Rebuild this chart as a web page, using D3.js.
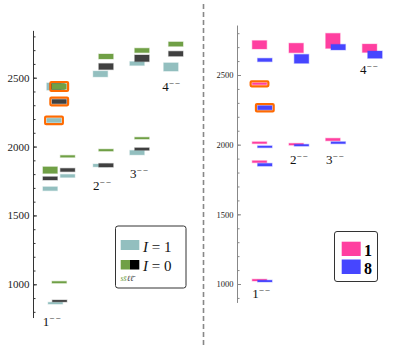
<!DOCTYPE html>
<html>
<head>
<meta charset="utf-8">
<script src="https://cdn.jsdelivr.net/npm/d3@7"></script>
<style>
  body { margin: 0; background: #fff; }
  svg { display: block; font-family: "Liberation Serif", "DejaVu Serif", serif; }
  svg text { font-family: "Liberation Serif", "DejaVu Serif", serif; }
</style>
</head>
<body>
<script>
// ---- data (MeV) ----
// left panel: I=1 (teal), I=0 ss-bar (green), I=0 ll-bar (black)
const tealX    = [0.51, 0.51, 0.40, 0.90, 0.55, 1.84, 1.84, 2.89, 2.89, 3.86];
const tealMass = [2436, 2190, 1694, 1787, 863, 2527, 1863, 2603, 1956, 2578];
const tealErr  = [26, 16, 14, 11, 4, 21, 10, 14, 16, 30];
const tealHi   = [false, true, false, false, false, false, false, false, false, false];

const blackX    = [0.60, 0.66, 0.40, 0.90, 0.67, 2.0, 2.0, 3.03, 3.03, 4.0];
const blackMass = [2436, 2327, 1769, 1830, 879, 2581, 1864, 2641, 1982, 2674];
const blackErr  = [21, 16, 12, 12, 5, 22, 13, 24, 9, 18];
const blackHi   = [false, true, false, false, false, false, false, false, false, false];

const greenX    = [0.66, 0.40, 0.90, 0.66, 2.0, 2.0, 3.03, 3.03, 4.0];
const greenMass = [2436, 1829, 1929, 1015, 2654, 1974, 2698, 2061, 2744];
const greenErr  = [21, 24, 7, 4, 18, 7, 16, 6, 16];
const greenHi   = [true, false, false, false, false, false, false, false, false];

// right panel: singlet (pink) and octet (blue)
const pinkX    = [1, 1, 1, 1, 1, 2, 2, 3, 3, 4];
const pinkMass = [2717, 2437, 2014, 1878, 1028, 2694, 2003, 2745, 2037, 2692];
const pinkErr  = [30, 5, 4, 7, 4, 34, 6, 54, 9, 30];
const pinkHi   = [false, true, false, false, false, false, false, false, false, false];

const blueX    = [1.145, 1.145, 1.145, 1.145, 1.145, 2.145, 2.145, 3.145, 3.145, 4.145];
const blueMass = [2608, 2265, 1985, 1856, 1021, 2616, 1996, 2700, 2014, 2646];
const blueErr  = [12, 15, 6, 10, 4, 32, 6, 20, 7, 26];
const blueHi   = [false, true, false, false, false, false, false, false, false, false];

// J^PC labels
const jpcDigits    = ["1", "2", "3", "4"];
const leftLabelX   = [0.19, 1.63, 2.69, 3.61];
const leftLabelM   = [697, 1684, 1772, 2407];
const rightLabelX  = [0.80, 1.83, 2.81, 3.74];
const rightLabelM  = [900, 1861, 1861, 2507];

const majorTicks = [1000, 1500, 2000, 2500];
const leftMinor  = d3.range(800, 2801, 100);
const rightMinor = d3.range(900, 2801, 100);

// ---- colours / sizes ----
const W = 411, H = 347;
const boxW = 14.5;
const serif = '"Liberation Serif", "DejaVu Serif", serif';
const cTeal = "#93bfbf", cGreen = "#70a046", cBlack = "#404040";
const cPink = "#ff3fa0", cBlue = "#4646ff", cOrange = "#ff6a00";

const svg = d3.select("body").append("svg")
  .attr("width", W).attr("height", H);

// scales
const yL = d3.scaleLinear().domain([1000, 2500]).range([284.3, 77.7]);
const xL = d3.scaleLinear().domain([0, 4]).range([36.2, 175.8]);
const yR = d3.scaleLinear().domain([1000, 2500]).range([284, 75]);
const xR = d3.scaleLinear().domain([0, 4]).range([222.8, 369.6]);

// axes
function drawAxis(x0, ys, lo, hi, minor, color, fs) {
  const g = svg.append("g").attr("transform", `translate(${x0},0)`);
  g.append("line").attr("y1", ys(hi)).attr("y2", ys(lo))
    .attr("stroke", color).attr("stroke-width", 1);
  g.append("g").call(d3.axisLeft(ys).tickValues(minor).tickSize(-2).tickFormat(""))
    .call(a => a.select(".domain").remove())
    .selectAll("line").attr("stroke", color);
  g.append("g").call(d3.axisLeft(ys).tickValues(majorTicks).tickSize(-3.5).tickPadding(4)
      .tickFormat(d3.format("d")))
    .attr("font-family", null)
    .call(a => a.select(".domain").remove())
    .call(a => a.selectAll("line").attr("stroke", color))
    .call(a => a.selectAll("text").style("font-family", serif)
      .attr("font-size", fs).attr("fill", "#222"));
}
drawAxis(33.5, yL, 755, 2840, leftMinor, "#333", 11);
drawAxis(237.5, yR, 864, 2855, rightMinor, "#888", 8.5);

// separator
svg.append("line").attr("x1", 203.5).attr("x2", 203.5).attr("y1", 4).attr("y2", 346)
  .attr("stroke", "#888").attr("stroke-width", 1.6).attr("stroke-dasharray", "5,3");

// level boxes
function drawLevels(xs, ys, xArr, mArr, eArr, hiArr, color) {
  const data = mArr.map((m, i) => ({ x: xArr[i], m, e: eArr[i], hi: hiArr[i] }));
  const g = svg.append("g");
  data.forEach(d => {
    const top = ys(d.m + d.e);
    const h = Math.max(ys(d.m - d.e) - top, 1.8);
    const yc = ys(d.m);
    const y0 = h === 1.8 ? yc - 0.9 : top;
    const x0 = xs(d.x) - boxW / 2;
    if (d.hi) {
      g.append("rect").attr("x", x0 - 1.6).attr("y", y0 - 1.6)
        .attr("width", boxW + 3.2).attr("height", h + 3.2).attr("rx", 1)
        .attr("fill", "none").attr("stroke", cOrange).attr("stroke-width", 2.2);
    }
    g.append("rect").attr("x", x0).attr("y", y0)
      .attr("width", boxW).attr("height", h)
      .attr("fill", color)
      .attr("stroke", color).attr("stroke-opacity", 0.3).attr("stroke-width", 1.2);
  });
}
drawLevels(xL, yL, tealX, tealMass, tealErr, tealHi, cTeal);
drawLevels(xL, yL, blackX, blackMass, blackErr, blackHi, cBlack);
drawLevels(xL, yL, greenX, greenMass, greenErr, greenHi, cGreen);
drawLevels(xR, yR, pinkX, pinkMass, pinkErr, pinkHi, cPink);
drawLevels(xR, yR, blueX, blueMass, blueErr, blueHi, cBlue);

// J^PC labels
function drawLabels(xs, ys, lx, lm) {
  jpcDigits.forEach((d, i) => {
    const t = svg.append("text").attr("x", xs(lx[i])).attr("y", ys(lm[i]))
      .attr("font-size", 13).attr("fill", "#111");
    t.append("tspan").text(d);
    t.append("tspan").attr("dy", -5).attr("font-size", 9).attr("letter-spacing", 1)
      .text("\u2212\u2212");
  });
}
drawLabels(xL, yL, leftLabelX, leftLabelM);
drawLabels(xR, yR, rightLabelX, rightLabelM);

// left legend
const lg = svg.append("g");
lg.append("rect").attr("x", 115.5).attr("y", 226).attr("width", 70.5).attr("height", 62)
  .attr("rx", 2.5).attr("fill", "#fff").attr("stroke", "#333").attr("stroke-width", 1);
lg.append("rect").attr("x", 120.7).attr("y", 240).attr("width", 18.6).attr("height", 10).attr("fill", cTeal);
lg.append("rect").attr("x", 120.7).attr("y", 260).attr("width", 9.3).attr("height", 9.5).attr("fill", cGreen);
lg.append("rect").attr("x", 130).attr("y", 260).attr("width", 9.3).attr("height", 9.5).attr("fill", "#000");
const l1 = lg.append("text").attr("x", 143).attr("y", 252).attr("font-size", 15).attr("fill", "#111");
l1.append("tspan").attr("font-style", "italic").text("I");
l1.append("tspan").text(" = 1");
const l2 = lg.append("text").attr("x", 143).attr("y", 271).attr("font-size", 15).attr("fill", "#111");
l2.append("tspan").attr("font-style", "italic").text("I");
l2.append("tspan").text(" = 0");
const l3 = lg.append("text").attr("x", 120.5).attr("y", 280.5).attr("font-size", 8).attr("font-style", "italic");
l3.append("tspan").attr("fill", cGreen).text("ss\u0304");
l3.append("tspan").attr("fill", "#333").text("\u2113\u2113\u0304");

// right legend
const rg = svg.append("g");
rg.append("rect").attr("x", 334.5).attr("y", 231.5).attr("width", 43).attr("height", 50)
  .attr("rx", 2.5).attr("fill", "#fff").attr("stroke", "#333").attr("stroke-width", 1);
rg.append("rect").attr("x", 341.7).attr("y", 241.7).attr("width", 19).attr("height", 14.3).attr("fill", cPink);
rg.append("rect").attr("x", 341.7).attr("y", 259.5).attr("width", 19).attr("height", 14.5).attr("fill", cBlue);
rg.append("text").attr("x", 364).attr("y", 256).attr("font-size", 16).attr("font-weight", "bold").text("1");
rg.append("text").attr("x", 364).attr("y", 274).attr("font-size", 16).attr("font-weight", "bold").text("8");
</script>
</body>
</html>
